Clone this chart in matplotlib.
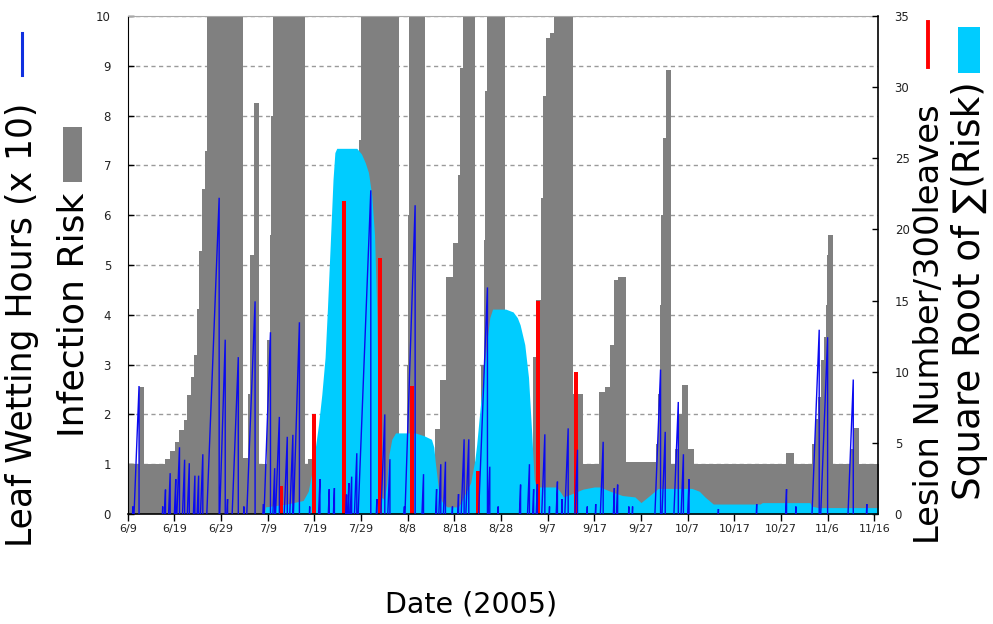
import numpy as np
import matplotlib
matplotlib.use("Agg")
import matplotlib.pyplot as plt
from matplotlib.lines import Line2D
from matplotlib.patches import Rectangle

# x positions are days after 9 June 2005
tick_days = [0, 10, 20, 30, 40, 50, 60, 70, 80, 90, 100, 110, 120, 130, 140, 150, 160]
tick_labels = ["6/9", "6/19", "6/29", "7/9", "7/19", "7/29", "8/8", "8/18", "8/28",
               "9/7", "9/17", "9/27", "10/7", "10/17", "10/27", "11/6", "11/16"]

# Infection risk (left axis), step values starting at each day
risk_day = [0, 2.43, 3.5, 8.1, 9.1, 10.1, 11.0, 12.1, 12.8, 13.5, 14.2, 14.9, 15.3, 16.0,
            16.6, 17.0, 24.8, 25.8, 26.3, 27.07, 28.2, 29.9, 30.4, 30.8, 31.2, 38.0, 38.7,
            39.6, 49.3, 49.6, 49.9, 58.2, 59.8, 60.0, 60.3, 63.7, 65.8, 66.9, 68.2, 69.8,
            70.8, 71.3, 71.8, 74.4, 75.8, 76.3, 76.6, 76.9, 80.8, 86.9, 87.5, 88.5, 88.9,
            89.6, 90.5, 91.4, 95.5, 97.5, 101.1, 102.3, 103.4, 104.3, 105.1, 106.7, 113.2,
            113.6, 114.0, 114.4, 114.8, 115.3, 116.4, 117.3, 118.0, 118.7, 120.1, 121.4,
            141.1, 142.7, 146.6, 147.3, 148.0, 148.5, 149.2, 149.6, 149.9, 150.1, 151.1,
            154.8, 155.6, 156.8, 161.0]
risk_val = [1.0, 2.55, 1.0, 1.1, 1.27, 1.45, 1.69, 1.89, 2.39, 2.75, 3.19, 4.12, 5.29, 6.52,
            7.29, 10, 1.12, 2.4, 5.2, 8.25, 1.0, 3.5, 5.6, 8.0, 10, 1.0, 1.1,
            1.0, 4.0, 7.5, 10, 1.0, 3.0, 6.0, 10, 1.0, 1.7, 2.7, 4.75, 5.45,
            6.8, 8.95, 10, 1.0, 3.0, 5.5, 8.5, 10, 1.0, 3.15, 4.3, 6.35, 8.4,
            9.55, 9.65, 10, 2.4, 1.0, 2.45, 2.55, 3.4, 4.7, 4.75, 1.05, 1.4,
            2.4, 4.2, 6.0, 7.55, 8.92, 1.0, 1.3, 2.0, 2.6, 1.3, 1.0,
            1.22, 1.0, 1.4, 1.9, 2.35, 3.1, 3.55, 4.2, 5.2, 5.6, 1.0,
            1.3, 1.72, 1.0, 1.0]

# Square root of cumulative risk (right axis)
sqrt_risk_day = [29.3, 29.5, 34.1, 37.6, 38.7, 39.4, 40.1, 40.9, 41.6, 42.3,
                 42.8, 43.4, 44.0, 44.4, 44.8, 49.1, 50.1, 50.9, 51.6, 52.3,
                 52.9, 53.4, 53.8, 54.2, 55.0, 55.5, 56.0, 56.6, 57.4, 61.6,
                 63.5, 65.1, 65.6, 65.9, 66.6, 67.3, 68.4, 70.9, 71.7, 73.5,
                 74.4, 74.8, 75.5, 76.2, 76.9, 77.6, 78.2, 81.0, 82.6, 83.5,
                 84.1, 85.1, 85.9, 86.6, 87.1, 87.6, 91.9, 92.6, 93.4, 95.0,
                 97.6, 100.0, 101.2, 103.4, 106.0, 108.7, 110.0, 111.5, 113.7, 120.9,
                 122.5, 123.7, 125.5, 135.5, 136.0, 146.2, 146.6, 148.0, 161.0]
sqrt_risk_val = [0, 0.5, 0.7, 0.95, 1.6, 2.8, 4.4, 6.3, 8.4, 11.0,
                 14.4, 18.9, 23.5, 25.4, 25.7, 25.7, 25.3, 24.7, 24.0, 22.4,
                 19.6, 14.0, 5.3, 1.2, 1.05, 2.1, 4.2, 5.25, 5.7, 5.7,
                 5.5, 5.25, 4.7, 3.7, 1.75, 0.9, 0.5, 0.5, 1.0, 2.2,
                 3.8, 4.9, 7.35, 9.6, 11.9, 13.8, 14.4, 14.4, 14.2, 13.8,
                 13.3, 11.9, 9.6, 5.6, 2.45, 1.9, 1.9, 1.6, 1.2, 1.4,
                 1.75, 1.9, 1.9, 1.6, 1.3, 1.2, 0.8, 1.2, 1.8, 1.8,
                 1.6, 1.2, 0.7, 0.7, 0.8, 0.8, 0.55, 0.45, 0.45]

# Lesions per 300 leaves (right axis)
lesion_day = [32.9, 39.9, 46.3, 54.1, 60.9, 75.1, 88.0, 96.1]
lesion_count = [2, 7, 22, 18, 9, 3, 15, 10]

# Leaf wetting events: day the event ends and total hours / 10 (left axis)
wet_day = [1.1, 2.43, 7.5, 8.1, 9.1, 10.3, 11.1, 12.2, 13.2, 14.4,
           15.2, 16.1, 19.6, 20.9, 21.4, 23.7, 24.9, 27.3, 29.1, 30.6,
           31.5, 32.5, 34.2, 35.4, 36.8, 39.0, 41.2, 43.2, 44.3, 46.9,
           47.4, 48.0, 49.1, 52.1, 53.4, 55.1, 56.2, 59.3, 61.6, 63.4,
           66.2, 67.1, 68.1, 69.6, 70.9, 72.1, 73.1, 77.1, 77.6, 79.4,
           84.2, 86.1, 87.0, 87.8, 89.4, 90.4, 92.1, 93.1, 94.4, 96.4,
           98.5, 100.3, 101.9, 104.3, 105.0, 107.4, 108.2, 114.2, 115.2, 118.0,
           119.1, 120.3, 126.6, 134.8, 141.2, 143.2, 148.2, 150.0, 155.5, 158.4]
wet_val = [0.15, 2.57, 0.15, 0.49, 0.82, 0.7, 1.34, 1.09, 1.02, 0.77,
           0.77, 1.2, 6.35, 3.5, 0.3, 3.15, 0.15, 4.27, 0.2, 3.65,
           0.92, 1.95, 1.55, 1.59, 3.85, 0.15, 0.7, 0.5, 0.52, 0.39,
           0.62, 0.75, 1.22, 6.5, 0.3, 2.0, 1.1, 0.15, 6.2, 0.8,
           0.5, 1.0, 1.05, 0.15, 0.4, 1.5, 1.5, 4.55, 0.95, 0.15,
           0.59, 1.0, 0.5, 0.6, 1.6, 0.15, 0.65, 0.3, 1.72, 1.29,
           0.15, 0.2, 1.45, 0.52, 0.59, 0.15, 0.15, 2.9, 1.65, 2.25,
           1.2, 0.7, 0.1, 0.2, 0.5, 0.15, 3.7, 3.55, 2.7, 0.2]

GRAY = "#808080"
CYAN = "#00ccff"
RED = "#ff0000"
BLUE = "#0a0af0"
W, H = 993, 624

fig = plt.figure(figsize=(W / 100, H / 100), dpi=100)
fig.patch.set_facecolor("white")

x0, x1, ytop, ybot = 127.7, 878, 16, 514
rect = [x0 / W, 1 - ybot / H, (x1 - x0) / W, (ybot - ytop) / H]
ax = fig.add_axes(rect)
ax2 = ax.twinx()
ax3 = ax.twinx()
for a in (ax, ax2, ax3):
    a.set_position(rect)

xmax = 160.8
ax.set_xlim(0, xmax)
ax.set_ylim(0, 10)
ax2.set_ylim(0, 35)
ax3.set_ylim(0, 10)

# infection risk as daily steps
ax.fill_between(risk_day, 0, risk_val, step="post", color=GRAY, lw=0, zorder=2)
ax.set_axisbelow(True)
ax.yaxis.grid(True, linestyle=(0, (3, 2.5)), color="#9a9a9a", lw=1.0)
ax.set_yticks(range(0, 11))

# cumulative risk and lesion counts on the right scale
ax2.fill_between(sqrt_risk_day, 0, sqrt_risk_val, color=CYAN, lw=0, zorder=2)
ax2.bar(lesion_day, lesion_count, width=0.8, color=RED, lw=0, zorder=3)
ax2.set_yticks(range(0, 36, 5))

# leaf wetting: hours accumulate through each event, then reset
xs, ys = [], []
prev = -1.0
for d, v in zip(wet_day, wet_val):
    start = max(d - v * 10 / 24.0, prev + 0.12)
    xs += [start, d, d, np.nan]
    ys += [0, v, 0, np.nan]
    prev = d
ax3.plot(xs, ys, color=BLUE, lw=1.0, zorder=4, solid_joinstyle="miter")
ax3.set_yticks([])
ax3.tick_params(right=False, labelright=False)

# axes styling
ax.set_xticks(tick_days)
ax.set_xticklabels(tick_labels)
ax.tick_params(axis="x", direction="out", length=5, width=1, labelsize=8,
               labelcolor="#222222", pad=2)
ax.tick_params(axis="y", direction="in", length=4, width=1, labelsize=8.5,
               labelcolor="#222222", pad=12)
ax2.tick_params(axis="y", direction="in", length=4, width=1, labelsize=8.5,
                labelcolor="#222222", pad=12)

for a in (ax, ax2, ax3):
    for s in a.spines.values():
        s.set_visible(False)
ax.spines["left"].set_visible(True)
ax.spines["left"].set_color("black")
ax.spines["top"].set_visible(True)
ax.spines["top"].set_color("#a8a8a8")
ax2.spines["right"].set_visible(True)
ax2.spines["right"].set_color("black")
ax2.spines["right"].set_linewidth(1.2)
ax3.spines["bottom"].set_visible(True)
ax3.spines["bottom"].set_color("black")
ax3.spines["bottom"].set_linewidth(1.2)

# axis titles, sized to their lengths on the page
renderer = fig.canvas.get_renderer()


def fitted_text(cx, cy, s, length, rotation=90, **kw):
    t = fig.text(cx / W, 1 - cy / H, s, rotation=rotation, ha="center", va="center",
                 fontsize=20, color="black", family="DejaVu Sans", **kw)
    bb = t.get_window_extent(renderer)
    cur = bb.height if rotation == 90 else bb.width
    t.set_fontsize(20 * length / cur)
    return t


fitted_text(22, 325, "Leaf Wetting Hours (x 10)", 445)
fitted_text(73, 315, "Infection Risk", 245)
fitted_text(930, 324, "Lesion Number/300leaves", 440)
fitted_text(969, 291, "Square Root of \u2211(Risk)", 418)
fitted_text(471, 604, "Date (2005)", 172, rotation=0)

# legend keys next to each title
def fig_line(x, ya, yb, color, lw):
    fig.add_artist(Line2D([x / W, x / W], [1 - ya / H, 1 - yb / H],
                          transform=fig.transFigure, color=color, lw=lw))


def fig_box(xa, xb, ya, yb, color):
    fig.add_artist(Rectangle((xa / W, 1 - yb / H), (xb - xa) / W, (yb - ya) / H,
                             transform=fig.transFigure, color=color, lw=0))


fig_line(22, 33, 75, "#1030e0", 2.2)
fig_box(63, 82, 127, 182, GRAY)
fig_line(928, 22, 67, RED, 2.8)
fig_box(958, 980, 27, 73, CYAN)

fig.savefig("out.png", dpi=100, facecolor="white")
